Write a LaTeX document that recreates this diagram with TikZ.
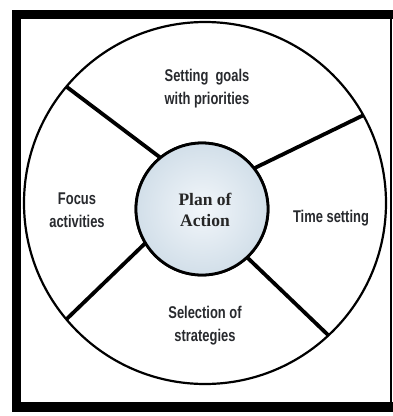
\documentclass[tikz,border=0pt]{standalone}
\usepackage{fontspec}
\setmainfont{Liberation Serif}
\newfontfamily\narrowsans[FakeStretch=0.76]{Liberation Sans Bold}
\definecolor{ballin}{RGB}{242,246,250}
\definecolor{ballmid}{RGB}{206,220,231}
\definecolor{ballout}{RGB}{152,176,194}
\definecolor{labeltext}{RGB}{40,42,46}
\pgfdeclareradialshading{ballshade}{\pgfpoint{0bp}{0bp}}{color(0bp)=(ballin); color(28bp)=(ballmid); color(50bp)=(ballout)}
\tikzset{
  framebar/.style={fill=black},
  bigring/.style={circle, draw=black, line width=2.2pt, minimum size=362pt, inner sep=0pt, outer sep=0pt},
  hub/.style={circle, draw=black, line width=2.8pt, minimum size=132pt, inner sep=0pt, outer sep=0pt, shading=ballshade},
  spoke/.style={line width=3.8pt, draw=black, shorten >=-4pt},
  sectorlabel/.style={font=\narrowsans\fontsize{17}{23}\selectfont, text=labeltext, align=center, inner sep=0pt},
  hublabel/.style={font=\bfseries\fontsize{17.5}{21}\selectfont, text=black!85, align=center, inner sep=0pt}
}
\begin{document}
\begin{tikzpicture}[x=1pt, y=-1pt]
\useasboundingbox (0,0) rectangle (393,416);
% frame
\fill[framebar] (12,10) rectangle (393,19);
\fill[framebar] (12,10) rectangle (20.5,412);
\fill[framebar] (12,402) rectangle (393,412);
\draw[line width=1.4pt] (391,19) -- (391,402);
% circles
\node[bigring] (ring) at (205,203) {};
\coordinate (hubc) at (202,209);
\node[hub] (hubshape) at (hubc) {};
% spokes
\draw[spoke] (ring.140.8) -- (hubshape.129.5);
\draw[spoke] (ring.29) -- (hubshape.38.7);
\draw[spoke] (ring.220) -- (hubshape.211.7);
\draw[spoke] (ring.313.3) -- (hubshape.313);
\node[hub] (hub) at (hubc) {};
\node[hublabel] (plan) at (205,210) {Plan of\\Action};
% sector labels
\node[sectorlabel] (goals) at (207,89) {Setting\ \ goals\\with priorities};
\node[sectorlabel] (focus) at (77,210) {Focus\\activities};
\node[sectorlabel] (time) at (331,218) {Time setting};
\node[sectorlabel] (select) at (205,326) {Selection of\\strategies};
\end{tikzpicture}
\end{document}
